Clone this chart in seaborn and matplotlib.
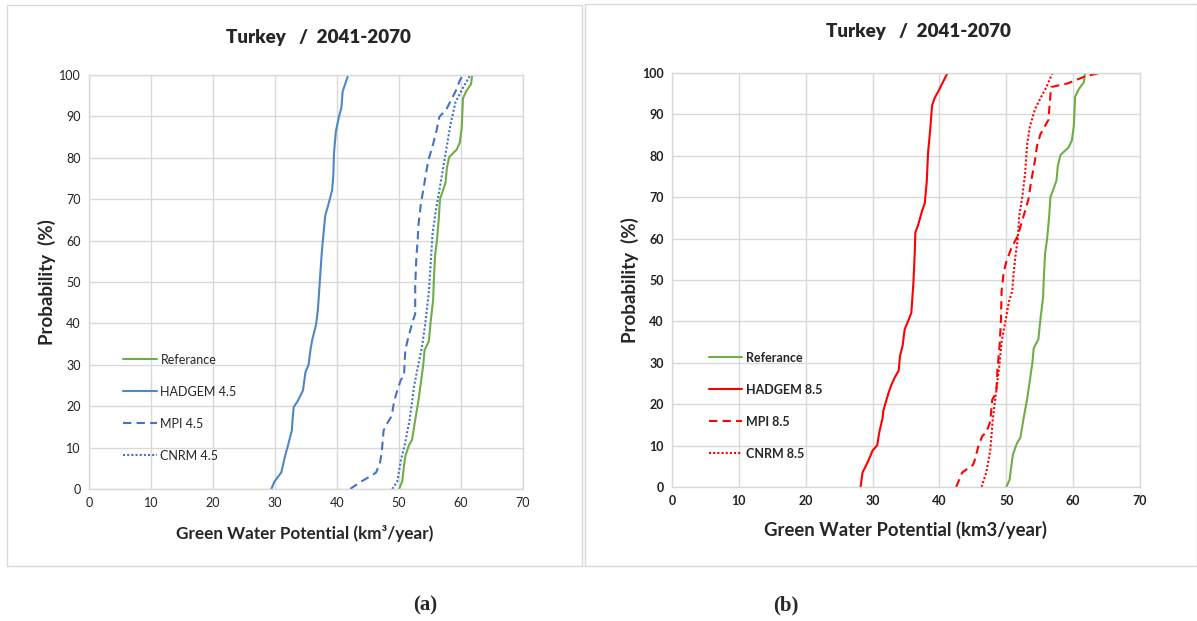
import matplotlib

matplotlib.use("Agg")

import matplotlib.pyplot as plt
import pandas as pd
import seaborn as sns
from matplotlib.patches import Rectangle

# probability levels (%) and green water potential (km3/year)
ref_prob = [0, 1.8, 4.4, 7.9, 10.6, 11.9, 16.7, 21.1, 25.5, 30, 33.5, 35.7, 40.5, 45.8,
            50.2, 56.4, 59.9, 65.2, 70, 74, 77.5, 80.2, 82, 83.7, 87.2, 94.3, 96, 97.8, 100]
ref_val = [50.0, 50.5, 50.7, 51.0, 51.6, 52.1, 52.6, 53.1, 53.5, 53.9, 54.1, 54.8, 55.1, 55.5,
           55.6, 55.8, 56.1, 56.4, 56.6, 57.5, 57.7, 58.1, 59.3, 59.8, 60.1, 60.3, 60.8, 61.6, 61.8]

had45_prob = [0, 1.8, 4, 7.9, 10.6, 14.1, 16.3, 19.8, 21.1, 23.8, 28.2, 30, 33.5, 36.1, 39.6,
              43.2, 47.6, 52, 56.4, 59.9, 66.1, 68.7, 72.2, 75.8, 81.1, 86.3, 89.9, 92.1, 96, 100]
had45_val = [29.4, 29.9, 31.0, 31.6, 32.1, 32.7, 32.8, 33.0, 33.6, 34.5, 34.9, 35.4, 35.7, 36.0,
             36.6, 36.9, 37.1, 37.3, 37.5, 37.7, 38.1, 38.6, 39.2, 39.4, 39.5, 39.8, 40.3, 40.7,
             40.9, 41.8]

mpi45_prob = [0, 0.9, 1.8, 3.1, 4, 6.2, 8.8, 14.1, 15.9, 17.6, 21.1, 23.8, 26.4, 27.3, 30.8,
              33.5, 36.1, 40.5, 42.3, 49.3, 56.4, 59.9, 63.4, 68.7, 74, 79.3, 82.8, 86.3, 89.9,
              91.6, 93.4, 96, 98.7, 100]
mpi45_val = [42.1, 43.0, 43.9, 45.4, 46.3, 46.9, 47.2, 47.5, 48.1, 48.8, 49.2, 49.7, 50.3, 50.8,
             50.9, 51.0, 51.4, 52.2, 52.6, 52.6, 52.8, 53.0, 53.1, 53.5, 54.1, 54.7, 55.4, 56.0,
             56.5, 57.6, 58.2, 59.1, 59.8, 60.3]

cnrm45_prob = [0, 1.8, 7, 10.6, 16.7, 21.1, 24.7, 30, 34.4, 39.6, 47.6, 54.6, 61.7, 67, 72.2,
               77.5, 82.8, 88.1, 93.4, 96.9, 100]
cnrm45_val = [48.9, 49.7, 50.3, 50.9, 51.7, 52.1, 52.4, 53.1, 53.7, 54.2, 54.8, 55.1, 55.4, 55.9,
              56.5, 57.1, 57.7, 58.3, 59.1, 60.3, 61.5]

had85_prob = [0, 3.5, 6.1, 8.8, 10.1, 13.2, 16.7, 18.4, 22.8, 24.6, 26.4, 28.1, 31.6, 34.2,
              38.1, 40.4, 42.1, 49.2, 56.2, 61.5, 63.2, 66.7, 68.5, 73.7, 80.8, 86, 92.2, 94,
              96.1, 100]
had85_val = [28.2, 28.5, 29.3, 30.0, 30.7, 31.0, 31.5, 31.6, 32.4, 32.8, 33.3, 33.9, 34.1, 34.5,
             34.8, 35.4, 35.8, 36.1, 36.3, 36.4, 36.8, 37.4, 37.8, 38.1, 38.3, 38.6, 38.9, 39.3,
             40.0, 41.2]

mpi85_prob = [0, 3.5, 5.3, 6.6, 9.7, 12.3, 13.2, 15.8, 21.1, 22.8, 28.9, 34.2, 40.4, 47.4,
              51.8, 54.4, 57.9, 60.6, 65, 69.4, 73.7, 79, 82.5, 85.2, 88.7, 94.8, 96.6, 97.5,
              99.2, 100]
mpi85_val = [42.5, 43.4, 45.0, 45.3, 45.8, 46.4, 47.0, 47.6, 47.9, 48.5, 48.7, 49.0, 49.2, 49.3,
             49.6, 50.0, 50.8, 51.7, 52.5, 53.3, 53.7, 54.3, 54.6, 55.1, 56.3, 56.6, 56.7, 59.2,
             61.8, 63.9]

cnrm85_prob = [0, 3.5, 8.8, 16.7, 24.6, 29.9, 35.1, 40.4, 44.8, 47.4, 51.8, 56.2, 59.7, 65,
               70.2, 75.5, 82.5, 86.9, 91.3, 93.9, 96.6, 100]
cnrm85_val = [46.3, 47.0, 47.6, 48.0, 48.6, 49.0, 49.3, 49.9, 50.4, 50.9, 51.1, 51.4, 51.7, 51.9,
              52.4, 52.8, 53.1, 53.5, 54.3, 55.1, 56.0, 56.9]

x_ticks = list(range(0, 71, 10))
y_ticks = list(range(0, 101, 10))

GREEN = "#70AD47"
GRID = "#D9D9D9"

sns.set_theme(style="white")
plt.rcParams["font.family"] = ["Lato", "DejaVu Sans"]


def serie(nombre, valores, prob):
    return pd.DataFrame({"valor": valores, "prob": prob, "serie": nombre})


def dibujar_panel(ax, series, bold):
    peso = "bold" if bold else "normal"
    for df, color, estilo in series:
        sns.lineplot(
            data=df, x="valor", y="prob", sort=False, estimator=None,
            color=color, linewidth=1.5, ax=ax, label=df["serie"].iloc[0],
            **estilo,
        )
    ax.set_xlim(0, 70)
    ax.set_ylim(0, 100)
    ax.set_xticks(x_ticks)
    ax.set_yticks(y_ticks)
    ax.grid(True, color=GRID, linewidth=1)
    for sp in ax.spines.values():
        sp.set_color(GRID)
        sp.set_linewidth(1)
    ax.tick_params(length=0, labelsize=9, colors="#222222", pad=6)
    for lab in ax.get_xticklabels() + ax.get_yticklabels():
        lab.set_fontweight(peso)
    ax.set_xlabel("")
    ax.set_ylabel("Probability  (%)", fontsize=13.5, fontweight="bold", labelpad=2)
    leg = ax.legend(
        frameon=False, loc="lower left", bbox_to_anchor=(0.078, 0.066),
        borderaxespad=0, borderpad=0, handlelength=2.7, handletextpad=0.3,
        labelspacing=1.6, fontsize=9,
    )
    for t in leg.get_texts():
        t.set_fontweight(peso)


fig = plt.figure(figsize=(11.97, 6.21), dpi=100)
ax_a = fig.add_axes([0.0744, 0.2126, 0.3626, 0.6667])
ax_b = fig.add_axes([0.5614, 0.2158, 0.391, 0.6666])

dashed = {"dashes": (4, 2.5)}
dotted = {"dashes": (1, 1)}
solid = {}

dibujar_panel(ax_a, [
    (serie("Referance", ref_val, ref_prob), GREEN, solid),
    (serie("HADGEM 4.5", had45_val, had45_prob), "#4F86C6", solid),
    (serie("MPI 4.5", mpi45_val, mpi45_prob), "#4472C4", dashed),
    (serie("CNRM 4.5", cnrm45_val, cnrm45_prob), "#4472C4", dotted),
], bold=False)

dibujar_panel(ax_b, [
    (serie("Referance", ref_val, ref_prob), GREEN, solid),
    (serie("HADGEM 8.5", had85_val, had85_prob), "#FF0000", solid),
    (serie("MPI 8.5", mpi85_val, mpi85_prob), "#FF0000", dashed),
    (serie("CNRM 8.5", cnrm85_val, cnrm85_prob), "#FF0000", dotted),
], bold=True)

# titles and axis labels
fig.text(318 / 1197, 1 - 37 / 621, "Turkey   /  2041-2070", ha="center", va="center",
         fontsize=13.5, fontweight="heavy")
fig.text(918 / 1197, 1 - 32 / 621, "Turkey   /  2041-2070", ha="center", va="center",
         fontsize=13.5, fontweight="heavy")
fig.text(305 / 1197, 1 - 533 / 621, "Green Water Potential (km\u00b3/year)", ha="center",
         va="center", fontsize=12.3, fontweight="bold")
fig.text(905 / 1197, 1 - 530 / 621, "Green Water Potential (km3/year)", ha="center",
         va="center", fontsize=13.3, fontweight="bold")

# panel frames
fig.add_artist(Rectangle((7 / 1197, 1 - 566 / 621), 575 / 1197, 561 / 621,
                         transform=fig.transFigure, fill=False, edgecolor=GRID, lw=1))
fig.add_artist(Rectangle((585 / 1197, 1 - 566 / 621), 612 / 1197, 562 / 621,
                         transform=fig.transFigure, fill=False, edgecolor=GRID, lw=1))

for x, txt in [(425, "(a)"), (786, "(b)")]:
    fig.text(x / 1197, 1 - 605 / 621, txt, ha="center", va="center", fontsize=15,
             fontweight="bold", family=["Liberation Serif", "DejaVu Serif"])

fig.savefig("out.png", dpi=100)
